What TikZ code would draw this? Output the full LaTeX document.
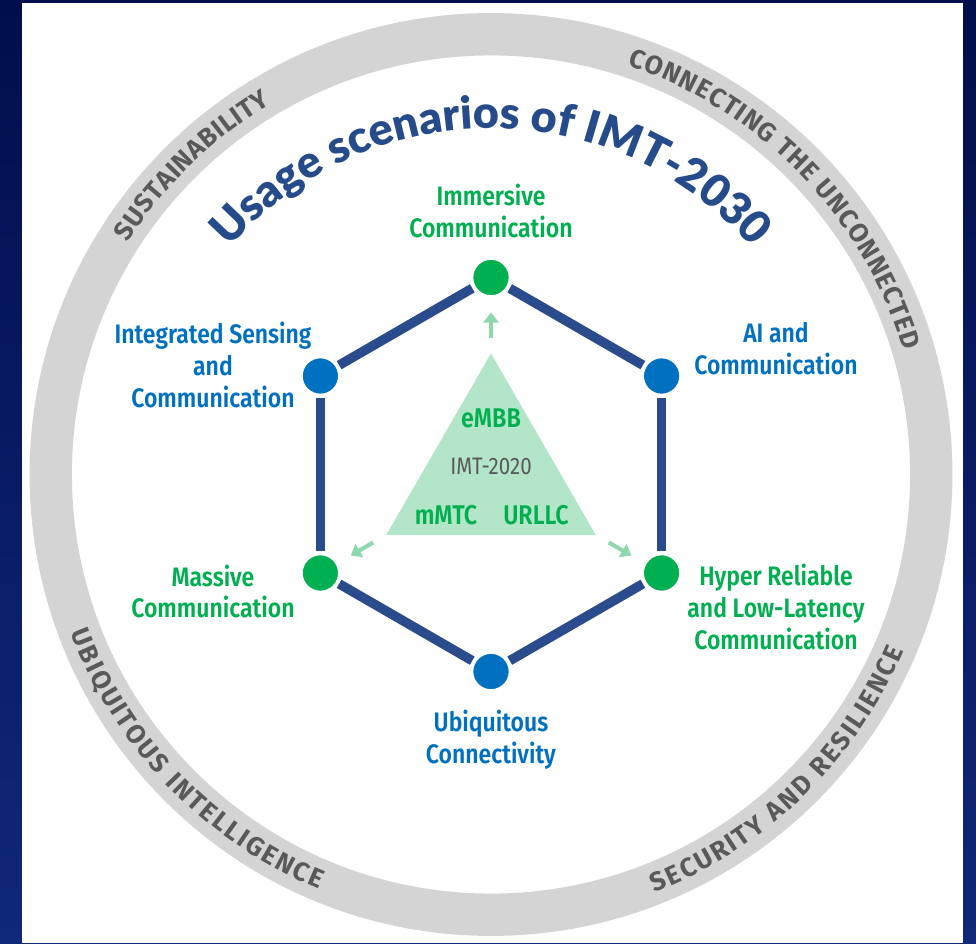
\documentclass[tikz,border=0pt]{standalone}
\usepackage{fontspec}
\setmainfont{Fira Sans}
\newfontfamily\labelfont{Fira Sans SemiBold}[FakeStretch=0.86]
\newfontfamily\ringfont{Fira Sans Bold}
\newfontfamily\titlefont{Lato Black}
\usetikzlibrary{arrows.meta, positioning, decorations.text}

\definecolor{bgtop}{RGB}{0,14,77}
\definecolor{bgbot}{RGB}{16,40,122}
\definecolor{hexblue}{RGB}{43,76,140}
\definecolor{scgreen}{RGB}{0,176,80}
\definecolor{scblue}{RGB}{0,112,192}
\definecolor{trifill}{RGB}{179,230,201}
\definecolor{arrowgreen}{RGB}{142,216,174}
\definecolor{ringgray}{RGB}{212,212,212}
\definecolor{ringtext}{RGB}{89,89,89}
\definecolor{titleblue}{RGB}{38,75,138}

\begin{document}
\begin{tikzpicture}[x=0.02cm, y=0.02cm,
  scenario/.style={circle, draw=white, line width=1.5pt, minimum size=0.76cm, inner sep=0pt, outer sep=1.5pt},
  greennode/.style={scenario, fill=scgreen},
  bluenode/.style={scenario, fill=scblue},
  hexedge/.style={draw=hexblue, line width=5.4pt},
  sclabel/.style={align=center, inner sep=0pt, font=\labelfont\fontsize{15.2}{18.1}\selectfont},
  tritext/.style={inner sep=0pt, text=scgreen, font=\labelfont\fontsize{15.4}{18}\selectfont},
  triarrow/.style={draw=arrowgreen, line width=2.3pt, -{Triangle[width=8.5pt, length=5.7pt]}},
  ringtxt/.style={decorate, decoration={text along path, text align={fit to path}, text color=ringtext,
    text={|\ringfont\fontsize{15}{17}\selectfont|#1}}}]

  % Background and panel
  \shade[top color=bgtop, bottom color=bgbot] (-491,-468.5) rectangle (485,474.5);
  \fill[white] (-469,-468.5) rectangle (472,471.5);

  % Outer ring
  \draw[ringgray, line width=24.1pt] (0,0) circle[radius=440.25];
  \path[ringtxt={SUSTAINABILITY}] (147.4:431) arc[start angle=147.4, end angle=120.7, radius=431];
  \path[ringtxt={CONNECTING THE UNCONNECTED}] (71.6:431) arc[start angle=71.6, end angle=16.7, radius=431];
  \path[ringtxt={UBIQUITOUS INTELLIGENCE}] (200.6:449) arc[start angle=200.6, end angle=247.5, radius=449];
  \path[ringtxt={SECURITY AND RESILIENCE}] (291.4:449) arc[start angle=291.4, end angle=336.9, radius=449];

  % Title
  \path[decorate, decoration={text along path, text align=center, text color=titleblue,
    text={|\titlefont\fontsize{25.5}{30}\selectfont|Usage scenarios of IMT-2030}}]
    (175:346) arc[start angle=175, end angle=5, radius=346];

  % IMT-2020 triangle
  \fill[trifill] (90:121) -- (210:121) -- (330:121) -- cycle;
  \node[tritext] (embb) at (0,56.5) {eMBB};
  \node[inner sep=0pt, text=ringtext, font=\fontsize{13.6}{16}\selectfont\addfontfeature{FakeStretch=0.86}] (imt) at (0,8.5) {IMT-2020};
  \node[tritext] (mmtc) at (-45,-40.5) {mMTC};
  \node[tritext] (urllc) at (45,-40.5) {URLLC};
  \foreach \a in {90,210,330}
    \draw[triarrow] (\a:136) -- (\a:162);

  % Usage scenarios
  \node[greennode] (imm) at (90:197) {};
  \node[bluenode] (ai) at (30:197) {};
  \node[greennode] (hrllc) at (-30:197) {};
  \node[bluenode] (ubi) at (-90:197) {};
  \node[greennode] (mass) at (210:197) {};
  \node[bluenode] (isac) at (150:197) {};
  \foreach \a/\b in {imm/ai, ai/hrllc, hrllc/ubi, ubi/mass, mass/isac, isac/imm}
    \draw[hexedge] (\a) -- (\b);

  % Labels
  \node[sclabel, text=scgreen] (immtxt) at (0,263.5) {Immersive\\Communication};
  \node[sclabel, text=scblue] (isactxt) at (-278,109.5) {Integrated Sensing\\and\\Communication};
  \node[sclabel, text=scblue] (aitxt) at (285,125.5) {AI and\\Communication};
  \node[sclabel, text=scgreen] (masstxt) at (-278,-117) {Massive\\Communication};
  \node[sclabel, text=scgreen] (hrllctxt) at (285,-132.5) {Hyper Reliable\\and Low-Latency\\Communication};
  \node[sclabel, text=scblue] (ubitxt) at (0,-265) {Ubiquitous\\Connectivity};
\end{tikzpicture}
\end{document}
